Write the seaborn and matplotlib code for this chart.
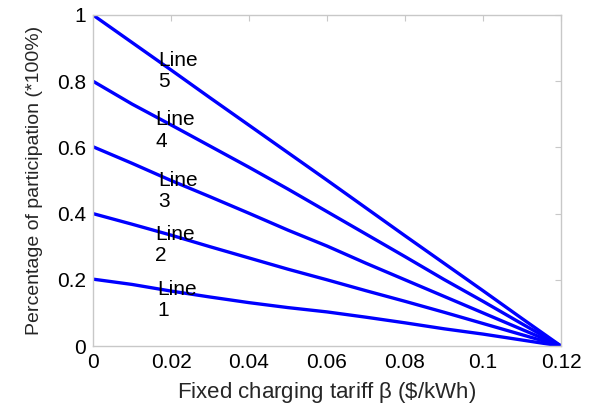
import matplotlib
matplotlib.use("Agg")
import matplotlib.pyplot as plt
import seaborn as sns
import pandas as pd

# Fixed charging tariff (x) and participation share for each line
tariff = [0.00, 0.01, 0.02, 0.03, 0.04, 0.05, 0.06, 0.07, 0.08, 0.09, 0.10, 0.11, 0.12]
line1 = [0.202, 0.186, 0.166, 0.148, 0.131, 0.116, 0.103, 0.087, 0.070, 0.052, 0.036, 0.018, 0.0]
line2 = [0.400, 0.368, 0.335, 0.300, 0.266, 0.232, 0.200, 0.167, 0.135, 0.102, 0.068, 0.034, 0.0]
line3 = [0.602, 0.552, 0.500, 0.451, 0.401, 0.350, 0.302, 0.250, 0.200, 0.150, 0.100, 0.050, 0.0]
line4 = [0.800, 0.731, 0.668, 0.604, 0.540, 0.474, 0.406, 0.338, 0.270, 0.201, 0.135, 0.067, 0.0]
line5 = [1.000, 0.917, 0.834, 0.750, 0.667, 0.584, 0.501, 0.417, 0.333, 0.250, 0.167, 0.083, 0.0]
series_names = ["Line 1", "Line 2", "Line 3", "Line 4", "Line 5"]

# Label anchor positions (x, y of text top)
label_x = [0.0164, 0.0159, 0.0167, 0.0159, 0.0167]
label_y = [0.200, 0.367, 0.530, 0.712, 0.892]

x_ticks = [0, 0.02, 0.04, 0.06, 0.08, 0.1, 0.12]
x_ticklabels = ["0", "0.02", "0.04", "0.06", "0.08", "0.1", "0.12"]
y_ticks = [0, 0.2, 0.4, 0.6, 0.8, 1]
y_ticklabels = ["0", "0.2", "0.4", "0.6", "0.8", "1"]

rows = []
for name, vals in zip(series_names, [line1, line2, line3, line4, line5]):
    for t, v in zip(tariff, vals):
        rows.append({"tariff": t, "share": v, "line": name})
df = pd.DataFrame(rows)

sns.set_style("white")
plt.rcParams["font.family"] = ["Liberation Sans", "DejaVu Sans"]

fig = plt.figure(figsize=(5.95, 4.05), dpi=100)
ax = fig.add_axes([93 / 595, 1 - 346 / 405, (561 - 93) / 595, (346 - 15) / 405])

sns.lineplot(data=df, x="tariff", y="share", hue="line",
             palette=["#0000ff"] * 5, linewidth=2.4, legend=False, ax=ax)

for name, lx, ly in zip(series_names, label_x, label_y):
    word, num = name.split()
    ax.text(lx, ly, f"{word}\n{num}", fontsize=15, va="top", ha="left",
            color="black", linespacing=1.18)

ax.set_xlim(0, 0.12)
ax.set_ylim(0, 1)
ax.set_xticks(x_ticks)
ax.set_xticklabels(x_ticklabels)
ax.set_yticks(y_ticks)
ax.set_yticklabels(y_ticklabels)
ax.tick_params(direction="in", length=4, color="#c8c8c8", labelsize=15,
               top=True, right=True, labelcolor="black", pad=5)
for sp in ax.spines.values():
    sp.set_color("#c8c8c8")
    sp.set_linewidth(1.0)

ax.set_xlabel(r"Fixed charging tariff $\mathregular{\beta}$ (\$/kWh)", fontsize=16, labelpad=6)
ax.set_ylabel("Percentage of participation (*100%)", fontsize=14, labelpad=10)

fig.savefig("out.png", dpi=100)
